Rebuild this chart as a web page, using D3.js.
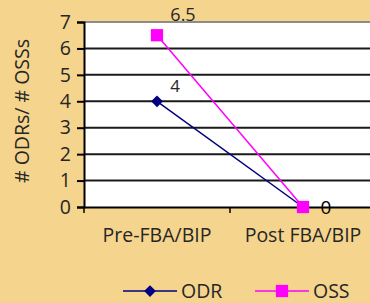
<!DOCTYPE html>
<html>
<head>
<meta charset="utf-8">
<script src="https://cdn.jsdelivr.net/npm/d3@7"></script>
<style>
  body { margin: 0; background: #F5D48D; }
  svg { display: block; font-family: "Open Sans", sans-serif; }
</style>
</head>
<body>
<div id="chart"></div>
<script>
var categories = ["Pre-FBA/BIP", "Post FBA/BIP"];
var odr = [4, 0];
var oss = [6.5, 0];
var yTicks = [0, 1, 2, 3, 4, 5, 6, 7];

var width = 370, height = 303;
var plotLeft = 84, plotRight = 376; // plot area runs past the window edge
var fs = "19.5px";
var ink = "#262626";

var svg = d3.select("#chart").append("svg")
    .attr("width", width)
    .attr("height", height);

var x = d3.scaleBand()
    .domain(categories)
    .range([plotLeft, plotRight]);

var y = d3.scaleLinear()
    .domain([0, 7])
    .range([207, 22]);

// plot background
svg.append("rect")
    .attr("x", plotLeft).attr("y", y(7))
    .attr("width", plotRight - plotLeft).attr("height", y(0) - y(7))
    .attr("fill", "#fff");

// grid lines
svg.append("g")
    .selectAll("line")
    .data(yTicks.filter(function (d) { return d > 0 && d < 7; }))
    .enter().append("line")
    .attr("x1", plotLeft).attr("x2", plotRight)
    .attr("y1", function (d) { return y(d); })
    .attr("y2", function (d) { return y(d); })
    .attr("stroke", "#1a1a1a").attr("stroke-width", 2);

// top border
svg.append("line")
    .attr("x1", plotLeft).attr("x2", plotRight)
    .attr("y1", y(7)).attr("y2", y(7))
    .attr("stroke", "#8c8c8c").attr("stroke-width", 2);

// y axis
var yAxis = svg.append("g")
    .attr("transform", "translate(" + plotLeft + ",0)")
    .call(d3.axisLeft(y).tickValues(yTicks).tickSize(7).tickPadding(6).tickFormat(d3.format("d")));
yAxis.attr("font-size", null).attr("font-family", null);
yAxis.select(".domain").attr("stroke", "#000").attr("stroke-width", 2);
yAxis.selectAll(".tick line").attr("stroke", "#000").attr("stroke-width", 2);
yAxis.selectAll("text").style("font-size", fs).attr("fill", ink);

// x axis
var xAxis = svg.append("g")
    .attr("transform", "translate(0," + y(0) + ")")
    .call(d3.axisBottom(x).tickSize(0).tickPadding(21));
xAxis.attr("font-size", null).attr("font-family", null);
xAxis.select(".domain").attr("stroke", "#000").attr("stroke-width", 2);
xAxis.selectAll("text").style("font-size", fs).attr("fill", ink);

// category separator ticks below axis
svg.append("g")
    .selectAll("line")
    .data(categories)
    .enter().append("line")
    .attr("x1", function (d) { return x(d); })
    .attr("x2", function (d) { return x(d); })
    .attr("y1", y(0)).attr("y2", y(0) + 6)
    .attr("stroke", "#000").attr("stroke-width", 1.5);

// y axis title
svg.append("text")
    .attr("transform", "translate(29,111) rotate(-90)")
    .attr("text-anchor", "middle")
    .style("font-size", fs)
    .attr("fill", ink)
    .text("# ODRs/ # OSSs");

var cx = function (d, i) { return x(categories[i]) + x.bandwidth() / 2; };

var line = d3.line()
    .x(function (d, i) { return cx(d, i); })
    .y(function (d) { return y(d); });

// ODR line
svg.append("path")
    .datum(odr)
    .attr("fill", "none")
    .attr("stroke", "#000080")
    .attr("stroke-width", 1.5)
    .attr("d", line);

// OSS line
svg.append("path")
    .datum(oss)
    .attr("fill", "none")
    .attr("stroke", "#FF00FF")
    .attr("stroke-width", 1.5)
    .attr("d", line);

var diamond = d3.symbol().type(d3.symbolDiamond2).size(88);
var square = d3.symbol().type(d3.symbolSquare).size(150);

svg.append("g").selectAll("path")
    .data(odr).enter().append("path")
    .attr("d", diamond)
    .attr("transform", function (d, i) { return "translate(" + cx(d, i) + "," + y(d) + ")"; })
    .attr("fill", "#000080");

svg.append("g").selectAll("path")
    .data(oss).enter().append("path")
    .attr("d", square)
    .attr("transform", function (d, i) { return "translate(" + cx(d, i) + "," + y(d) + ")"; })
    .attr("fill", "#FF00FF");

// data labels
svg.append("text")
    .attr("x", cx(oss[0], 0) + 26).attr("y", y(oss[0]) - 14)
    .attr("text-anchor", "middle").style("font-size", "18px").attr("fill", ink)
    .text(oss[0]);
svg.append("text")
    .attr("x", cx(odr[0], 0) + 18).attr("y", y(odr[0]) - 9)
    .attr("text-anchor", "middle").style("font-size", "17px").attr("fill", ink)
    .text(odr[0]);
svg.append("text")
    .attr("x", cx(0, 1) + 23).attr("y", y(0))
    .attr("dy", "0.35em")
    .attr("text-anchor", "middle").style("font-size", "19px").attr("fill", "#000")
    .text(oss[1]);

// legend
var legend = [
    { name: "ODR", color: "#000080", sym: diamond, x: 123 },
    { name: "OSS", color: "#FF00FF", sym: square, x: 255 }
];
var lg = svg.append("g").selectAll("g")
    .data(legend).enter().append("g")
    .attr("transform", function (d) { return "translate(" + d.x + ",291)"; });
lg.append("line")
    .attr("x1", 0).attr("x2", 54)
    .attr("stroke", function (d) { return d.color; })
    .attr("stroke-width", 1.5);
lg.append("path")
    .attr("d", function (d) { return d.sym(); })
    .attr("transform", "translate(27,0)")
    .attr("fill", function (d) { return d.color; });
lg.append("text")
    .attr("x", 58).attr("dy", "0.35em")
    .style("font-size", fs).attr("fill", ink)
    .text(function (d) { return d.name; });
</script>
</body>
</html>
